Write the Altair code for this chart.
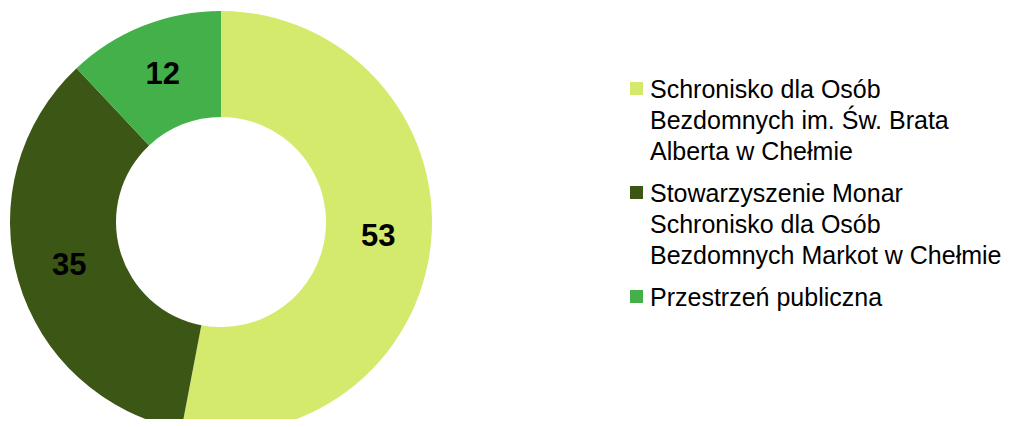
import altair as alt
import pandas as pd

categories = [
    "Schronisko dla Osób\nBezdomnych im. Św. Brata\nAlberta w Chełmie",
    "Stowarzyszenie Monar\nSchronisko dla Osób\nBezdomnych Markot w Chełmie",
    "Przestrzeń publiczna",
]
values = [53, 35, 12]
colors = ["#D4EA6C", "#3C5616", "#43B04A"]

df = pd.DataFrame({"kat": categories, "val": values, "idx": list(range(len(values)))})

CX, CY = 213, 214
FS = 25

base = alt.Chart(df).encode(
    theta=alt.Theta("val:Q", stack=True),
    order=alt.Order("idx:Q"),
)

arcs = base.mark_arc(outerRadius=211, innerRadius=105).encode(
    x=alt.value(CX),
    y=alt.value(CY),
    color=alt.Color(
        "kat:N",
        sort=None,
        scale=alt.Scale(domain=categories, range=colors),
        legend=alt.Legend(
            title=None,
            orient="none",
            legendX=616,
            legendY=68,
            padding=0,
            symbolType="square",
            symbolSize=169,
            symbolStrokeWidth=0,
            labelFont="Arial",
            labelFontSize=FS,
            labelColor="#000000",
            labelLimit=600,
            labelOffset=1,
            labelExpr="split(datum.label, '\\n')",
            rowPadding=15,
            labelBaseline="top",
        ),
    ),
)

labels = base.mark_text(
    radius=158, font="Arial", fontSize=31, fontWeight="bold", color="#000000"
).encode(
    x=alt.value(CX),
    y=alt.value(CY),
    text=alt.Text("val:Q"),
)

chart = (
    alt.layer(arcs, labels)
    .properties(width=1009, height=411, padding=0, autosize=alt.AutoSizeParams(type="none"))
    .configure(style={"guide-label": {"lineHeight": 31, "dy": -11}})
    .configure_view(stroke=None)
)

chart.save("out.html", embed_options={"renderer": "svg", "actions": False})
